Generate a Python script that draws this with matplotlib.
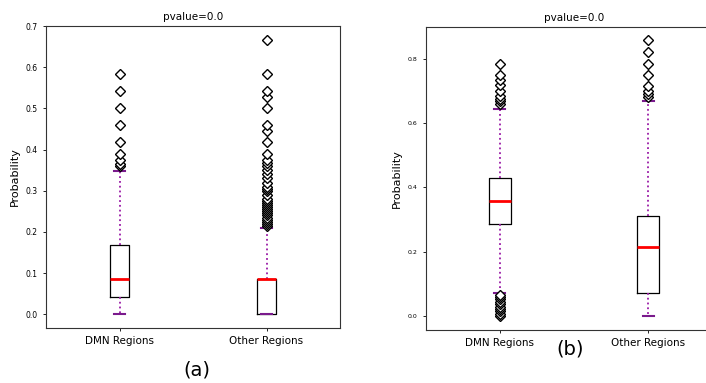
import matplotlib
matplotlib.use("Agg")
import matplotlib.pyplot as plt

labels = ["DMN Regions", "Other Regions"]

# Panel (a) statistics
a_whislo = [0.0, 0.0]
a_q1 = [0.043, 0.0]
a_med = [0.085, 0.085]
a_q3 = [0.168, 0.085]
a_whishi = [0.347, 0.21]
a_fliers_dmn = [0.36, 0.365, 0.375, 0.39, 0.418, 0.46, 0.50, 0.543, 0.583]
a_fliers_other = [0.215, 0.22, 0.225, 0.23, 0.235, 0.24, 0.245, 0.25, 0.255, 0.26,
                  0.265, 0.27, 0.275, 0.28, 0.29, 0.30, 0.305, 0.31, 0.32, 0.33,
                  0.34, 0.35, 0.36, 0.368, 0.375, 0.39, 0.418, 0.445, 0.46, 0.50,
                  0.527, 0.543, 0.583, 0.667]

# Panel (b) statistics
b_whislo = [0.072, 0.0]
b_q1 = [0.287, 0.072]
b_med = [0.358, 0.215]
b_q3 = [0.43, 0.31]
b_whishi = [0.643, 0.668]
b_fliers_dmn = [0.0, 0.008, 0.015, 0.022, 0.03, 0.038, 0.045, 0.052, 0.06, 0.066,
                0.66, 0.668, 0.675, 0.685, 0.70, 0.72, 0.735, 0.75, 0.785]
b_fliers_other = [0.68, 0.69, 0.70, 0.715, 0.75, 0.785, 0.82, 0.857]

title_text = "pvalue=0.0"
ylabel_text = "Probability"


def make_stats(lo, q1, med, q3, hi, fliers_list):
    out = []
    for i in range(len(labels)):
        out.append(dict(whislo=lo[i], q1=q1[i], med=med[i], q3=q3[i],
                        whishi=hi[i], fliers=fliers_list[i], label=labels[i]))
    return out


fig = plt.figure(figsize=(7.06, 3.83), dpi=100)

panels = [
    dict(rect=[0.0652, 0.1436, 0.4164, 0.7885], width=0.13, tick_fs=5.5,
         stats=make_stats(a_whislo, a_q1, a_med, a_q3, a_whishi,
                          [a_fliers_dmn, a_fliers_other]),
         tag="(a)", tag_xy=(0.279, 0.035)),
    dict(rect=[0.603, 0.1384, 0.42, 0.792], width=0.15, tick_fs=4.5,
         stats=make_stats(b_whislo, b_q1, b_med, b_q3, b_whishi,
                          [b_fliers_dmn, b_fliers_other]),
         tag="(b)", tag_xy=(0.807, 0.09)),
]

for p in panels:
    ax = fig.add_axes(p["rect"])
    ax.bxp(p["stats"], positions=[1, 2], widths=p["width"],
           boxprops=dict(color="black", linewidth=0.9),
           medianprops=dict(color="red", linewidth=2.0),
           whiskerprops=dict(color="#9a1aa6", linestyle=":", linewidth=1.3),
           capprops=dict(color="#7a1a8c", linewidth=1.5),
           flierprops=dict(marker="D", markerfacecolor="white",
                           markeredgecolor="black", markersize=4.8,
                           markeredgewidth=1.0),
           capwidths=0.075)
    ax.set_title(title_text, fontsize=7.5, pad=4)
    ax.set_ylabel(ylabel_text, fontsize=8)
    ax.tick_params(axis="y", labelsize=p["tick_fs"], length=2.5, width=0.6)
    ax.tick_params(axis="x", labelsize=7.5, length=2.5, width=0.6)
    for s in ax.spines.values():
        s.set_linewidth(0.8)
        s.set_color("#333333")
    fig.text(p["tag_xy"][0], p["tag_xy"][1], p["tag"], fontsize=14,
             ha="center", va="center")

fig.savefig("out.png", dpi=100)
